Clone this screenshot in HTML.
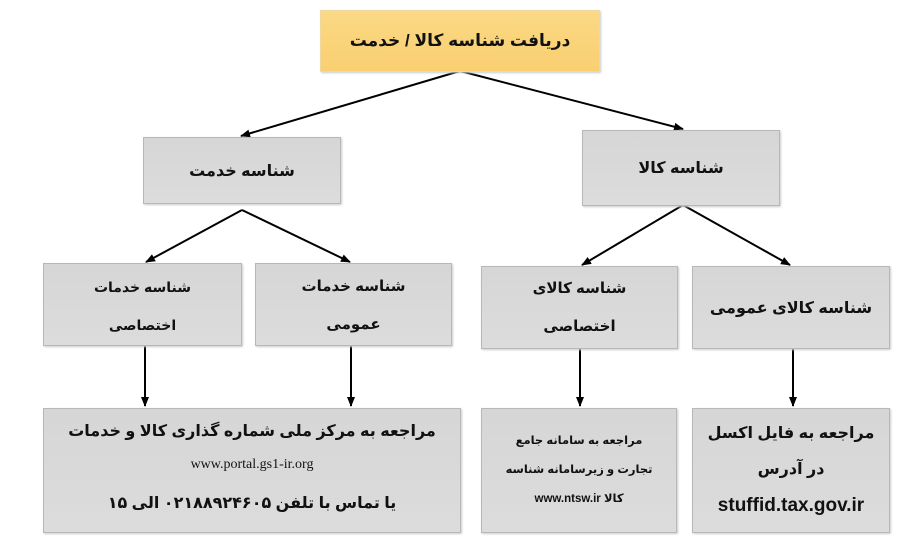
<!DOCTYPE html>
<html><head><meta charset="utf-8"><style>
body{margin:0;width:922px;height:549px;background:#fff;position:relative;overflow:hidden;font-family:"Liberation Sans","DejaVu Sans",sans-serif;direction:rtl}
.b{position:absolute;box-sizing:border-box;background:linear-gradient(#d6d6d6,#dcdcdc);border:1px solid #b8b8b8;display:flex;flex-direction:column;align-items:center;justify-content:center;text-align:center;color:#111;font-weight:bold;box-shadow:1px 1px 2px #ccc;white-space:nowrap}
svg{position:absolute;left:0;top:0}
</style></head><body>
<svg width="922" height="549">
<defs><marker id="a" markerWidth="10" markerHeight="10" refX="9" refY="5" orient="auto" markerUnits="userSpaceOnUse"><path d="M0,1 L10,5 L0,9z" fill="#000"/></marker></defs>
<g stroke="#000" stroke-width="2" fill="none" marker-end="url(#a)">
<line x1="460" y1="71" x2="241" y2="136"/>
<line x1="460" y1="71" x2="683" y2="129"/>
<line x1="242" y1="210" x2="146" y2="262"/>
<line x1="242" y1="210" x2="350" y2="262"/>
<line x1="683" y1="205" x2="582" y2="265"/>
<line x1="683" y1="205" x2="790" y2="265"/>
<line x1="145" y1="346" x2="145" y2="406"/>
<line x1="351" y1="346" x2="351" y2="406"/>
<line x1="580" y1="349" x2="580" y2="406"/>
<line x1="793" y1="349" x2="793" y2="406"/>
</g></svg>
<div class="b" style="left:320px;top:10px;width:280px;height:62px;background:linear-gradient(#fbd985,#f9cf70);border-color:#f0d9a0;font-size:17px">دریافت شناسه کالا / خدمت</div>
<div class="b" style="left:143px;top:137px;width:198px;height:67px;font-size:16px">شناسه خدمت</div>
<div class="b" style="left:582px;top:130px;width:198px;height:76px;font-size:16px">شناسه کالا</div>
<div class="b" style="left:43px;top:263px;width:199px;height:83px;font-size:14px;line-height:38px;justify-content:flex-start;padding-top:4px"><div>شناسه خدمات<br>اختصاصی</div></div>
<div class="b" style="left:255px;top:263px;width:197px;height:83px;font-size:15px;line-height:38px;justify-content:flex-start;padding-top:4px"><div>شناسه خدمات<br>عمومی</div></div>
<div class="b" style="left:481px;top:266px;width:197px;height:83px;font-size:15px;line-height:38px"><div>شناسه کالای<br>اختصاصی</div></div>
<div class="b" style="left:692px;top:266px;width:198px;height:83px;font-size:16px">شناسه کالای عمومی</div>
<div class="b" style="left:43px;top:408px;width:418px;height:125px;font-size:16px"><div style="line-height:34px">مراجعه به مرکز ملی شماره گذاری کالا و خدمات</div><div style="font-family:'Liberation Serif',serif;font-weight:normal;font-size:14px;direction:ltr;line-height:32px">www.portal.gs1-ir.org</div><div style="line-height:46px">یا تماس با تلفن ۰۲۱۸۸۹۲۴۶۰۵ الی ۱۵</div></div>
<div class="b" style="left:481px;top:408px;width:196px;height:125px;font-size:11.5px;line-height:29px"><div>مراجعه به سامانه جامع<br>تجارت و زیرسامانه شناسه<br>کالا www.ntsw.ir</div></div>
<div class="b" style="left:692px;top:408px;width:198px;height:125px;font-size:16px;line-height:36px"><div>مراجعه به فایل اکسل<br>در آدرس<br><span style="direction:ltr;font-size:19px">stuffid.tax.gov.ir</span></div></div>
</body></html>
